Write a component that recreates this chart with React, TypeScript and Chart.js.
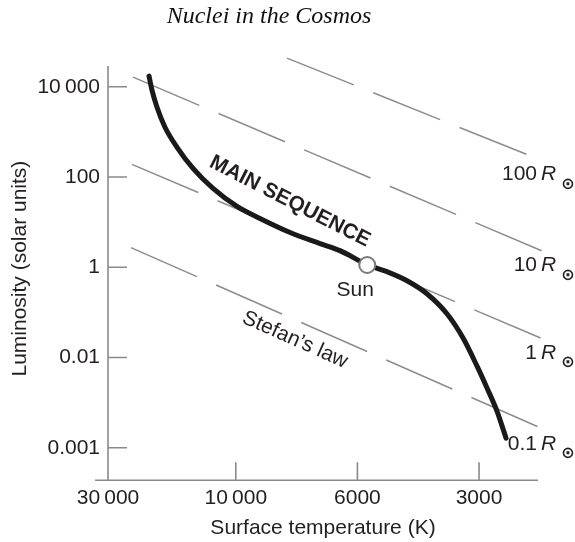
import React, { useEffect, useRef } from "react";
import { Chart, registerables } from "chart.js";

Chart.register(...registerables);

const TITLE = "Nuclei in the Cosmos";
const X_TITLE = "Surface temperature (K)";
const Y_TITLE = "Luminosity (solar units)";

// x: schematic temperature axis (tick units, hotter to the left); y: log10 luminosity
const xTickValues = [0, 1.04, 2.03, 3.02];
const xTickLabels = ["30\u2009000", "10\u2009000", "6000", "3000"];
const yTickValues = [4, 2, 0, -2, -4];
const yTickLabels = ["10\u2009000", "100", "1", "0.01", "0.001"];

const X_MIN = 0;
const X_MAX = 3.5;
const Y_MIN = -4.72;
const Y_MAX = 4.66;
const Y_AXIS_TOP = 4.46;

const mainSeqX = [0.334, 0.358, 0.399, 0.464, 0.562, 0.692, 0.855, 1.05, 1.237, 1.482, 1.726, 1.889, 2.108, 2.271, 2.434, 2.596, 2.759, 2.889, 3.003, 3.085, 3.166, 3.24];
const mainSeqY = [4.236, 3.924, 3.547, 3.102, 2.658, 2.191, 1.747, 1.347, 1.08, 0.769, 0.524, 0.369, 0.058, -0.098, -0.298, -0.587, -1.031, -1.564, -2.187, -2.676, -3.187, -3.787];

const sunX = [2.11];
const sunY = [0.05];

// constant-radius lines (Stefan's law)
const radiusLabels = ["100", "10", "1", "0.1"];
const radiusStartX = [1.457, 0.2035, 0.195, 0.187];
const radiusStartY = [4.636, 4.213, 2.28, 0.436];
const radiusEndX = [3.549, 3.565, 3.557, 3.581];
const radiusEndY = [2.347, 0.324, -1.609, -3.633];

const MAIN_SEQ_LABEL = { text: "MAIN SEQUENCE", x: 1.481, y: 1.458, angle: 27 };
const STEFAN_LABEL = { text: "Stefan\u2019s law", x: 1.522, y: -1.609, angle: 24 };
const SUN_LABEL = "Sun";

const SANS = "'Liberation Sans', Arial, Helvetica, sans-serif";
const SERIF = "'Liberation Serif', 'Times New Roman', serif";
const AXIS_COLOR = "#8a8a8a";
const DASH_COLOR = "#8c8c8c";
const TEXT_COLOR = "#231f20";

const decorPlugin = {
  id: "decor",
  beforeDatasetsDraw(chart: any) {
    const { ctx, chartArea, scales } = chart;
    const xs = scales.x;
    const ys = scales.y;
    const x0 = chartArea.left;
    const yb = chartArea.bottom;
    ctx.save();
    ctx.strokeStyle = AXIS_COLOR;
    ctx.lineWidth = 1.6;
    ctx.beginPath();
    ctx.moveTo(x0 - 13, yb);
    ctx.lineTo(chartArea.right, yb);
    ctx.moveTo(x0, ys.getPixelForValue(Y_AXIS_TOP));
    ctx.lineTo(x0, yb);
    yTickValues.forEach((v) => {
      const p = ys.getPixelForValue(v);
      ctx.moveTo(x0, p);
      ctx.lineTo(x0 + 19, p);
    });
    xTickValues.slice(1).forEach((v) => {
      const p = xs.getPixelForValue(v);
      ctx.moveTo(p, yb);
      ctx.lineTo(p, yb - 18);
    });
    ctx.stroke();
    ctx.restore();
  },
  afterDatasetsDraw(chart: any) {
    const { ctx, chartArea, scales } = chart;
    const xs = scales.x;
    const ys = scales.y;
    ctx.save();
    ctx.fillStyle = TEXT_COLOR;
    ctx.textBaseline = "middle";

    const drawRot = (lab: any, font: string) => {
      ctx.save();
      ctx.translate(xs.getPixelForValue(lab.x), ys.getPixelForValue(lab.y));
      ctx.rotate((lab.angle * Math.PI) / 180);
      ctx.font = font;
      ctx.textAlign = "center";
      ctx.fillText(lab.text, 0, 0);
      ctx.restore();
    };
    drawRot(MAIN_SEQ_LABEL, `bold 21px ${SANS}`);
    drawRot(STEFAN_LABEL, `21px ${SANS}`);

    // Sun label
    ctx.font = `21px ${SANS}`;
    ctx.textAlign = "center";
    ctx.fillText(SUN_LABEL, xs.getPixelForValue(sunX[0]) - 12, ys.getPixelForValue(sunY[0]) + 25);

    // Radius labels
    radiusLabels.forEach((lab, i) => {
      const ey = ys.getPixelForValue(radiusEndY[i]) + 13;
      const r = chartArea.right;
      ctx.font = `21px ${SANS}`;
      ctx.textAlign = "right";
      ctx.fillText(lab, r - 1, ey);
      ctx.font = `italic 21px ${SANS}`;
      ctx.textAlign = "left";
      ctx.fillText("R", r + 3, ey);
      ctx.font = `bold 16px 'DejaVu Sans', sans-serif`;
      ctx.textAlign = "center";
      ctx.fillText("\u2299", r + 30, ey + 10);
    });
    ctx.restore();
  },
};

export default function App() {
  const canvasRef = useRef<HTMLCanvasElement | null>(null);

  useEffect(() => {
    if (!canvasRef.current) return;

    const lineSets = radiusLabels.map((lab, i) => ({
      label: `${lab} R`,
      data: [
        { x: radiusStartX[i], y: radiusStartY[i] },
        { x: radiusEndX[i], y: radiusEndY[i] },
      ],
      borderColor: DASH_COLOR,
      borderWidth: 1.5,
      borderDash: [72, 21],
      pointRadius: 0,
      showLine: true,
      fill: false,
      order: 2,
      clip: { left: false, top: 0, right: false, bottom: false },
    }));

    const chart = new Chart(canvasRef.current, {
      type: "scatter",
      data: {
        datasets: [
          {
            label: "Sun",
            data: sunX.map((x, i) => ({ x, y: sunY[i] })),
            pointRadius: 8,
            pointBackgroundColor: "#ffffff",
            pointBorderColor: "#7a7a7a",
            pointBorderWidth: 2,
            showLine: false,
            order: 0,
            clip: false,
          } as any,
          {
            label: "Main sequence",
            data: mainSeqX.map((x, i) => ({ x, y: mainSeqY[i] })),
            borderColor: "#1a1a1a",
            borderWidth: 5,
            borderCapStyle: "round",
            cubicInterpolationMode: "monotone",
            pointRadius: 0,
            showLine: true,
            fill: false,
            order: 1,
            clip: false,
          } as any,
          ...(lineSets as any[]),
        ],
      },
      options: {
        animation: false,
        responsive: true,
        maintainAspectRatio: false,
        layout: { padding: { left: 0, right: 37, top: 0, bottom: 0 } },
        plugins: {
          legend: { display: false },
          tooltip: { enabled: false },
          title: {
            display: true,
            text: TITLE,
            color: "#111111",
            font: { family: SERIF, size: 24, style: "italic", weight: "normal" },
            padding: { top: 2.6, bottom: 25.6 },
          },
        },
        scales: {
          x: {
            type: "linear",
            min: X_MIN,
            max: X_MAX,
            grid: { display: false, drawTicks: false },
            border: { display: false },
            afterBuildTicks: (scale: any) => {
              scale.ticks = xTickValues.map((v) => ({ value: v }));
            },
            ticks: {
              autoSkip: false,
              maxRotation: 0,
              padding: 5,
              color: TEXT_COLOR,
              font: { family: SANS, size: 21 },
              callback: (value: any) => {
                const idx = xTickValues.indexOf(Number(value));
                return idx >= 0 ? xTickLabels[idx] : "";
              },
            },
            title: {
              display: true,
              text: X_TITLE,
              color: TEXT_COLOR,
              font: { family: SANS, size: 21 },
              padding: { top: 0, bottom: 1.4 },
            },
          },
          y: {
            type: "linear",
            min: Y_MIN,
            max: Y_MAX,
            grid: { display: false, drawTicks: false },
            border: { display: false },
            afterBuildTicks: (scale: any) => {
              scale.ticks = yTickValues.map((v) => ({ value: v }));
            },
            afterFit: (scale: any) => {
              scale.width = 108;
            },
            ticks: {
              autoSkip: false,
              padding: 8,
              color: TEXT_COLOR,
              font: { family: SANS, size: 21 },
              callback: (value: any) => {
                const idx = yTickValues.indexOf(Number(value));
                return idx >= 0 ? yTickLabels[idx] : "";
              },
            },
            title: {
              display: true,
              text: Y_TITLE,
              color: TEXT_COLOR,
              font: { family: SANS, size: 21 },
              padding: { top: 7.4, bottom: 0 },
            },
          },
        },
      } as any,
      plugins: [decorPlugin],
    });

    return () => chart.destroy();
  }, []);

  return (
    <div style={{ position: "absolute", left: 0, top: 0, width: 575, height: 542 }}>
      <canvas ref={canvasRef} />
    </div>
  );
}
